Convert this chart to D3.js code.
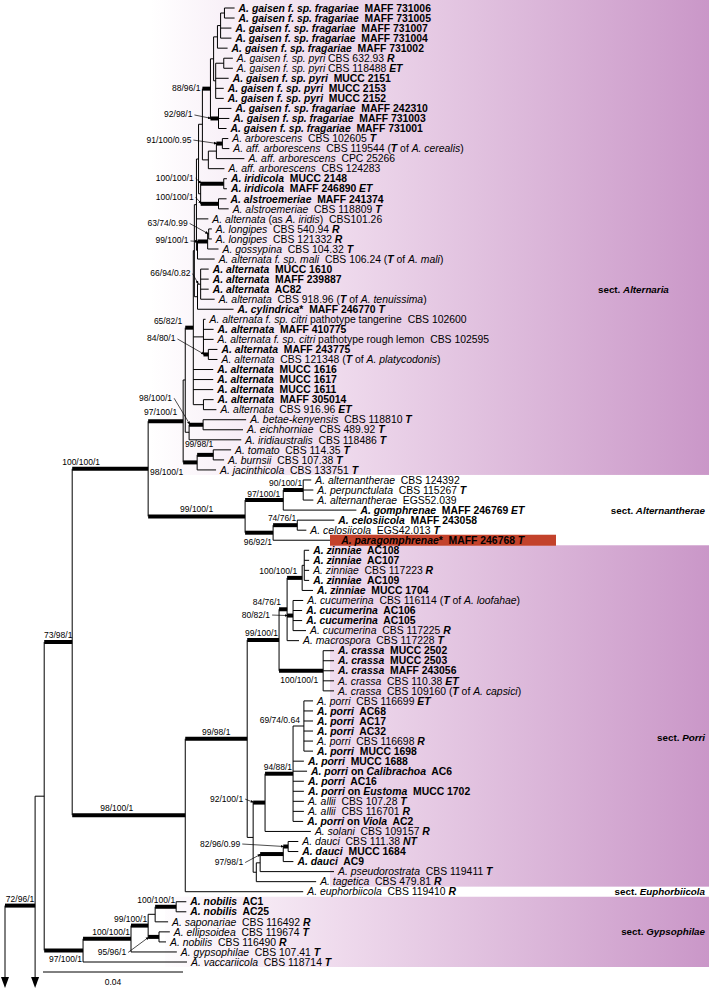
<!DOCTYPE html>
<html><head><meta charset="utf-8">
<script src="https://cdn.jsdelivr.net/npm/d3@7"></script>
<style>
body{margin:0;background:#fff}
svg text{font-family:"Liberation Sans",Arial,sans-serif;white-space:pre}
</style></head><body>
<svg id="c" width="709" height="990"></svg>
<script>
// ---------------- DATA ----------------
// taxon labels in tree order; "!" = bold isolate, {..} italic, [..] bold italic type marks
const taxa = [
"!{A. gaisen f. sp. fragariae}  MAFF 731006",
"!{A. gaisen f. sp. fragariae}  MAFF 731005",
"!{A. gaisen f. sp. fragariae}  MAFF 731007",
"!{A. gaisen f. sp. fragariae}  MAFF 731004",
"!{A. gaisen f. sp. fragariae}  MAFF 731002",
"{A. gaisen f. sp. pyri} CBS 632.93 [R]",
"{A. gaisen f. sp. pyri} CBS 118488 [ET]",
"!{A. gaisen f. sp. pyri}  MUCC 2151",
"!{A. gaisen f. sp. pyri}  MUCC 2153",
"!{A. gaisen f. sp. pyri}  MUCC 2152",
"!{A. gaisen f. sp. fragariae}  MAFF 242310",
"!{A. gaisen f. sp. fragariae}  MAFF 731003",
"!{A. gaisen f. sp. fragariae}  MAFF 731001",
"{A. arborescens}  CBS 102605 [T]",
"{A. aff. arborescens}  CBS 119544 ([T] of {A. cerealis})",
"{A. aff. arborescens}  CPC 25266",
"{A. aff. arborescens}  CBS 124283",
"!{A. iridicola}  MUCC 2148",
"!{A. iridicola}  MAFF 246890 [ET]",
"!{A. alstroemeriae}  MAFF 241374",
"{A. alstroemeriae}  CBS 118809 [T]",
"{A. alternata} (as {A. iridis})  CBS101.26",
"{A. longipes}  CBS 540.94 [R]",
"{A. longipes}  CBS 121332 [R]",
"{A. gossypina}  CBS 104.32 [T]",
"{A. alternata f. sp. mali}  CBS 106.24 ([T] of {A. mali})",
"!{A. alternata}  MUCC 1610",
"!{A. alternata}  MAFF 239887",
"!{A. alternata}  AC82",
"{A. alternata}  CBS 918.96 ([T] of {A. tenuissima})",
"!{A. cylindrica}*  MAFF 246770 [T]",
"{A. alternata f. sp. citri} pathotype tangerine  CBS 102600",
"!{A. alternata}  MAFF 410775",
"{A. alternata f. sp. citri} pathotype rough lemon  CBS 102595",
"!{A. alternata}  MAFF 243775",
"{A. alternata}  CBS 121348 ([T] of {A. platycodonis})",
"!{A. alternata}  MUCC 1616",
"!{A. alternata}  MUCC 1617",
"!{A. alternata}  MUCC 1611",
"!{A. alternata}  MAFF 305014",
"{A. alternata}  CBS 916.96 [ET]",
"{A. betae-kenyensis}  CBS 118810 [T]",
"{A. eichhorniae}  CBS 489.92 [T]",
"{A. iridiaustralis}  CBS 118486 [T]",
"{A. tomato}  CBS 114.35 [T]",
"{A. burnsii}  CBS 107.38 [T]",
"{A. jacinthicola}  CBS 133751 [T]",
"{A. alternantherae}  CBS 124392",
"{A. perpunctulata}  CBS 115267 [T]",
"{A. alternantherae}  EGS52.039",
"!{A. gomphrenae}  MAFF 246769 [ET]",
"!{A. celosiicola}  MAFF 243058",
"{A. celosiicola}  EGS42.013 [T]",
"!{A. paragomphrenae}*  MAFF 246768 [T]",
"!{A. zinniae}  AC108",
"!{A. zinniae}  AC107",
"{A. zinniae}  CBS 117223 [R]",
"!{A. zinniae}  AC109",
"!{A. zinniae}  MUCC 1704",
"{A. cucumerina}  CBS 116114 ([T] of {A. loofahae})",
"!{A. cucumerina}  AC106",
"!{A. cucumerina}  AC105",
"{A. cucumerina}  CBS 117225 [R]",
"{A. macrospora}  CBS 117228 [T]",
"!{A. crassa}  MUCC 2502",
"!{A. crassa}  MUCC 2503",
"!{A. crassa}  MAFF 243056",
"{A. crassa}  CBS 110.38 [ET]",
"{A. crassa}  CBS 109160 ([T] of {A. capsici})",
"{A. porri}  CBS 116699 [ET]",
"!{A. porri}  AC68",
"!{A. porri}  AC17",
"!{A. porri}  AC32",
"{A. porri}  CBS 116698 [R]",
"!{A. porri}  MUCC 1698",
"!{A. porri}  MUCC 1688",
"!{A. porri} on {Calibrachoa}  AC6",
"!{A. porri}  AC16",
"!{A. porri} on {Eustoma}  MUCC 1702",
"{A. allii}  CBS 107.28 [T]",
"{A. allii}  CBS 116701 [R]",
"!{A. porri} on {Viola}  AC2",
"{A. solani}  CBS 109157 [R]",
"{A. dauci}  CBS 111.38 [NT]",
"!{A. dauci}  MUCC 1684",
"!{A. dauci}  AC9",
"{A. pseudorostrata}  CBS 119411 [T]",
"{A. tagetica}  CBS 479.81 [R]",
"{A. euphorbiicola}  CBS 119410 [R]",
"!{A. nobilis}  AC1",
"!{A. nobilis}  AC25",
"{A. saponariae}  CBS 116492 [R]",
"{A. ellipsoidea}  CBS 119674 [T]",
"{A. nobilis}  CBS 116490 [R]",
"{A. gypsophilae}  CBS 107.41 [T]",
"{A. vaccariicola}  CBS 118714 [T]"
];

// tree edges: [node, parent, branch length (subst./site), support ML/MP/PP]
const edges = [
["R","",0,""],
["O1","R",0,""],
["N72","R",0.0086,"72/96/1"],
["O2","N72",0,""],
["IN","N72",0.0026,""],
["N73","IN",0.008,"73/98/1"],
["G97","IN",0.0111,"97/100/1"],
// sect. Gypsophilae
["G100b","G97",0.0137,"100/100/1"],["t96","G97",0.0297,""],
["N99","G100b",0.0049,"99/100/1"],["t95","G100b",0.0131,""],
["Nsub","N99",0.002,""],["N95","N99",0.0031,"95/96/1"],
["G100a","Nsub",0.006,"100/100/1"],["t92","Nsub",0.0037,""],
["t90","G100a",0.0029,""],["t91","G100a",0.0029,""],
["t93","N95",0.0031,""],["t94","N95",0.002,""],
// core
["N100","N73",0.0217,"100/100/1"],["PP","N73",0.0323,"98/100/1"],
["M0","N100",0.01,"97/100/1"],["AT","N100",0.0277,"99/100/1"],
// sect. Alternaria
["M1","M0",0.0006,""],["T2","M0",0.004,"98/100/1"],
["X65","M1",0.0023,"65/82/1"],["I1","M1",0.0011,""],
["Utop","X65",0.0003,""],["C1","X65",0.0029,""],
["t37","X65",0.0057,""],["t38","X65",0.0057,""],["t39","X65",0.0057,""],
["N4041","X65",0.0029,""],
["A5","Utop",0.0006,""],["AL2","Utop",0.0009,""],
["A3","A5",0.0006,""],["t22","A5",0.0034,""],["L3","A5",0.0003,""],
["A1","A3",0.0011,""],["A2","A3",0.0006,""],
["N88","A1",0.0023,"88/96/1"],["ARB2","A1",0.0017,""],
["X","N88",0.0009,""],["N92","N88",0.0023,"92/98/1"],
["G3","X",0.0011,""],["Q","X",0.0006,""],
["G2","G3",0.0009,""],["t5","G3",0.0029,""],
["G1","G2",0.0011,""],["t3","G2",0.0031,""],["t4","G2",0.0031,""],
["t1","G1",0.0029,""],["t2","G1",0.0029,""],
["P1","Q",0.0023,""],["t8","Q",0.0037,""],["t9","Q",0.0023,""],["t10","Q",0.0023,""],
["t6","P1",0.0026,""],["t7","P1",0.0026,""],
["t11","N92",0.0037,""],["t12","N92",0.0031,""],["t13","N92",0.0023,""],
["ARB1","ARB2",0.0023,""],["t17","ARB2",0.0046,""],
["N91","ARB1",0.0017,"91/100/0.95"],["t16","ARB1",0.008,""],
["t14","N91",0.0017,""],["t15","N91",0.002,""],
["Nirid","A2",0.0066,"100/100/1"],["Nalst","A2",0.0051,"100/100/1"],
["t18","Nirid",0.0009,""],["t19","Nirid",0.0009,""],
["t20","Nalst",0.0023,""],["t21","Nalst",0.0029,""],
["L2","L3",0.0029,"99/100/1"],["t26","L3",0.0049,""],
["L1","L2",0.0003,"63/74/0.99"],["t25","L2",0.0031,""],
["t23","L1",0.0009,""],["t24","L1",0.0009,""],
["AL1","AL2",0.0009,"66/94/0.82"],["t31","AL2",0.0103,""],
["t27","AL1",0.0023,""],["t28","AL1",0.0023,""],["t29","AL1",0.0023,""],["t30","AL1",0.004,""],
["t32","C1",0.0006,""],["t33","C1",0.0029,""],["t34","C1",0.0029,""],
["N84","C1",0.0014,"84/80/1"],
["t35","N84",0.0026,""],["t36","N84",0.0026,""],
["t40","N4041",0.0029,""],["t41","N4041",0.0037,""],
["BK","I1",0.004,"98/100/1"],["t44","I1",0.0149,""],
["t42","BK",0.0123,""],["t43","BK",0.0114,""],
["T1","T2",0.0046,"99/98/1"],["t47","T2",0.0054,""],
["t45","T1",0.0051,""],["t46","T1",0.0031,""],
// sect. Alternantherae
["Q97","AT",0.0109,"97/100/1"],["Q96","AT",0.008,"96/92/1"],
["Q90","Q97",0.0057,"90/100/1"],["t51","Q97",0.0209,""],
["t48","Q90",0.0023,""],["t49","Q90",0.0029,""],["t50","Q90",0.0029,""],
["Q74","Q96",0.0069,"74/76/1"],["t54","Q96",0.0183,""],
["t52","Q74",0.0106,""],["t53","Q74",0.0026,""],
// sect. Porri + Euphorbiicola
["P99","PP",0.0177,"99/98/1"],["t89","PP",0.0337,""],
["Z99","P99",0.0091,"99/100/1"],["Pmid","P99",0.0017,""],
["U84","Z99",0.0023,"84/76/1"],["C100","Z99",0.0126,"100/100/1"],
["Z100","U84",0.0043,"100/100/1"],["CU80","U84",0.0017,"80/82/1"],["t64","U84",0.0034,""],
["Za","Z100",0.0006,""],["t59","Z100",0.0031,""],
["t55","Za",0.0014,""],["t56","Za",0.0014,""],["t57","Za",0.0014,""],["t58","Za",0.0014,""],
["t60","CU80",0.0029,""],["t61","CU80",0.0026,""],["t62","CU80",0.0026,""],["t63","CU80",0.0037,""],
["t65","C100",0.0031,""],["t66","C100",0.0031,""],["t67","C100",0.0031,""],["t68","C100",0.0031,""],["t69","C100",0.0031,""],
["P92","Pmid",0.0034,"92/100/1"],["D3","Pmid",0.0009,""],
["PO2","P92",0.008,"94/88/1"],["t83","P92",0.0131,""],
["PO1","PO2",0.0031,"69/74/0.64"],
["t76","PO2",0.0031,""],["t77","PO2",0.004,""],["t78","PO2",0.0031,""],["t79","PO2",0.0031,""],
["t80","PO2",0.0031,""],["t81","PO2",0.0031,""],["t82","PO2",0.0029,""],
["t70","PO1",0.0026,""],["t71","PO1",0.0026,""],["t72","PO1",0.0026,""],
["t73","PO1",0.0026,""],["t74","PO1",0.0026,""],["t75","PO1",0.0026,""],
["D2","D3",0.0011,""],["t88","D3",0.0171,""],
["D97","D2",0.0066,"97/98/1"],["t87","D2",0.0211,""],
["D82","D97",0.0014,"82/96/0.99"],["t86","D97",0.0029,""],
["t84","D82",0.0029,""],["t85","D82",0.0029,""]
];

// sections: [name, first row, last row, shaded]
const sections = [
["Alternaria",1,47,true],
["Alternantherae",48,54,false],
["Porri",55,88,true],
["Euphorbiicola",89,89,false],
["Gypsophilae",90,96,true]
];
const highlightTaxon = 54;        // A. paragomphrenae (new species)
const scaleBarValue = 0.04;
const outgroups = ["O1","O2"];

// ---------------- LAYOUT / STYLE ----------------
const W=709,H=990;
const thinSupport = new Set(["AL1","L1","PO1"]);
// support label placement: [ref(n=node,p=parent,m=mid), dx, dy, anchor, arrow]
const supPos = {
 N72:["m",0,-4,"middle"], N73:["m",0,-4,"middle"], G97:["n",-1,12,"end"],
 G100b:["n",-1,-4,"end"], N99:["n",-1,-4,"end"], G100a:["n",-1,-4,"end"],
 N95:["p",-22,18,"end",1],
 N100:["p",-10,-4,"start"], PP:["p",28,-4,"start"], M0:["n",-6,-6,"end"], AT:["m",0,-4,"middle"],
 Q97:["n",-3,-3,"end"], Q96:["n",-1,12,"end"], Q90:["n",-1,-4,"end"], Q74:["n",-1,-4,"end"],
 P99:["m",0,-4,"middle"], Z99:["n",-1,-4,"end"], U84:["n",-6,-4,"end"], C100:["n",-5,12,"end"],
 Z100:["n",-5,-4,"end"], CU80:["p",-17,2,"end",1], P92:["p",-10,-1,"end",1],
 PO2:["n",-1,-4,"end"], PO1:["n",-4,-3,"end"], D82:["p",-43,0,"end",1], D97:["p",-17,11,"end",1],
 N88:["p",-2,2,"end"], N92:["p",-18,-1,"end",1], N91:["p",-25,-1,"end",1],
 Nirid:["p",-7,-3,"end",1], Nalst:["p",-7,-4,"end",1], L1:["p",-20,-8,"end",1],
 L2:["p",-9,2,"end",1], AL1:["p",-7,-8,"end",1], X65:["p",-3,-4,"end"],
 N84:["p",-28,-13,"end",1], BK:["p",-17,-24,"end",1], T1:["n",0,-8,"end"], T2:["p",0,13,"end"]
};
const secLabel = {Alternaria:[598,"start",29], Alternantherae:[705,"end",51], Porri:[705,"end",73.6],
                  Euphorbiicola:[705,"end",89], Gypsophilae:[705,"end",93]};
const TXT = {size:10.4, sx:1, sup:8.5};

const svg = d3.select("#c");
const xs = d3.scaleLinear().domain([0, scaleBarValue]).range([5, 145]);
const ys = d3.scaleLinear().domain([1, taxa.length]).range([8, 962]);

const root = d3.stratify().id(d=>d[0]).parentId(d=>d[1])(edges);
root.eachBefore(n => { n.len = n.parent ? n.parent.len + n.data[2] : 0; n.x = xs(n.len); });
root.eachAfter(n => {
  if (!n.children) {
    n.y = outgroups.includes(n.id) ? H + 25 : ys(+n.id.slice(1));
  } else {
    const cy = n.children.map(c=>c.y);
    n.y0 = d3.min(cy); n.y1 = d3.max(cy); n.y = (n.y0+n.y1)/2;
  }
});

// defs
const defs = svg.append("defs");
const grad = defs.append("linearGradient").attr("id","pg").attr("gradientUnits","userSpaceOnUse")
  .attr("x1",150).attr("x2",W).attr("y1",0).attr("y2",0);
grad.append("stop").attr("offset",0).attr("stop-color","#ffffff");
grad.append("stop").attr("offset",0.35).attr("stop-color","#eed9ec");
grad.append("stop").attr("offset",1).attr("stop-color","#ca97c8");
defs.append("marker").attr("id","ah").attr("viewBox","0 0 10 10").attr("refX",10).attr("refY",5)
  .attr("markerWidth",5).attr("markerHeight",5).attr("orient","auto")
  .append("path").attr("d","M0,1L10,5L0,9z").attr("fill","#000");

// section bands
const bandX = {Alternaria:150, Porri:330, Gypsophilae:165};
sections.filter(s=>s[3]).forEach(s=>{
  const y0 = s[1]===1 ? 0 : ys(s[1])-5, y1 = ys(s[2])+5;
  svg.append("rect").attr("x",bandX[s[0]]).attr("y",y0).attr("width",W-bandX[s[0]]).attr("height",y1-y0)
    .attr("fill","url(#pg)");
});

// tree lines
const gT = svg.append("g").attr("stroke","#000").attr("fill","none");
root.descendants().forEach(n=>{
  if (n.children) {
    const yb = Math.min(n.y1, H-12);
    gT.append("line").attr("x1",n.x).attr("x2",n.x).attr("y1",n.y0).attr("y2",yb).attr("stroke-width",1);
  }
  if (n.parent && n.x > n.parent.x) {
    const thick = n.data[3] && !thinSupport.has(n.id);
    gT.append("line").attr("x1",n.parent.x).attr("x2",n.x).attr("y1",n.y).attr("y2",n.y)
      .attr("stroke-width", thick ? 4 : 1);
  }
});
// outgroup arrows (truncated branches)
outgroups.forEach(id=>{
  const n = root.find(d=>d.id===id);
  svg.append("path").attr("d",`M${n.x-4},${H-13}L${n.x+4},${H-13}L${n.x},${H-2}z`).attr("fill","#000");
});

// highlight bar
{
  const y = ys(highlightTaxon);
  svg.append("rect").attr("x",330).attr("y",y-5.5).attr("width",226).attr("height",11).attr("fill","#c3422b");
}

// rich text helper
function rich(g, str){
  let bold=false;
  if (str[0]==="!"){bold=true;str=str.slice(1);}
  const t = g.append("text").attr("font-size",TXT.size);
  str.split(/(\{[^}]*\}|\[[^\]]*\])/).filter(s=>s.length).forEach(p=>{
    let s=p,it=false,b=bold;
    if(p[0]==="{"){s=p.slice(1,-1);it=true;}
    else if(p[0]==="["){s=p.slice(1,-1);it=true;b=true;}
    t.append("tspan").text(s).attr("font-style",it?"italic":"normal").attr("font-weight",b?"bold":"normal");
  });
  return t;
}

// taxon labels
root.leaves().filter(n=>!outgroups.includes(n.id)).forEach(n=>{
  const g = svg.append("g").attr("transform",`translate(${n.x+4},${n.y+3.7}) scale(${TXT.sx},1)`);
  rich(g, taxa[+n.id.slice(1)-1]);
});

// support labels
const gS = svg.append("g");
root.descendants().filter(n=>n.data[3]).forEach(n=>{
  const p = supPos[n.id] || ["n",-1,-4,"end"];
  const px = n.parent.x;
  const rx = p[0]==="n" ? n.x : p[0]==="p" ? px : (px+n.x)/2;
  const lx = rx+p[1], ly = n.y+p[2];
  gS.append("text").attr("x",lx).attr("y",ly).attr("text-anchor",p[3]).attr("font-size",TXT.sup).text(n.data[3]);
  if (p[4]) {
    gS.append("line").attr("x1",lx+2).attr("y1",ly-2.5).attr("x2",px+1).attr("y2",n.y)
      .attr("stroke","#000").attr("stroke-width",0.7).attr("marker-end","url(#ah)");
  }
});

// section labels
sections.forEach(s=>{
  const L = secLabel[s[0]];
  const t = svg.append("text").attr("x",L[0]).attr("y",ys(L[2])+3.5).attr("text-anchor",L[1])
    .attr("font-size",9.8).attr("font-weight","bold");
  t.append("tspan").text("sect. ");
  t.append("tspan").attr("font-style","italic").text(s[0]);
});

// scale bar
{
  const x0 = 43, y = ys(taxa.length)+10;
  svg.append("line").attr("x1",x0).attr("x2",x0+xs(scaleBarValue)-xs(0)).attr("y1",y).attr("y2",y)
    .attr("stroke","#000").attr("stroke-width",1);
  svg.append("text").attr("x",x0+(xs(scaleBarValue)-xs(0))/2).attr("y",y+13).attr("text-anchor","middle")
    .attr("font-size",8.5).text(scaleBarValue);
}
</script>
</body></html>
